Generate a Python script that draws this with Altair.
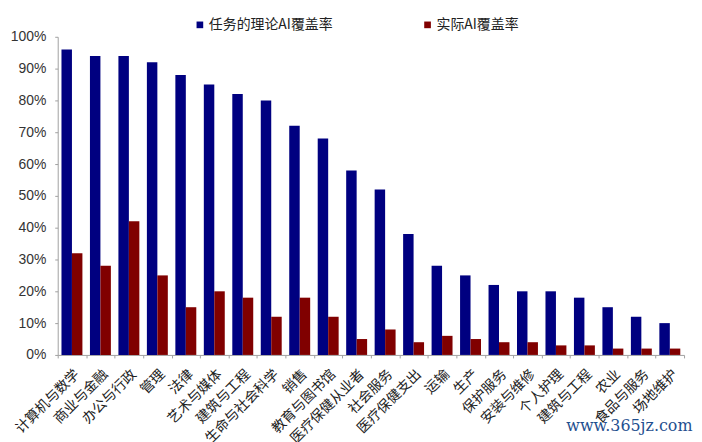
import json
import altair as alt
import pandas as pd

categories = ["计算机与数学", "商业与金融", "办公与行政", "管理", "法律", "艺术与媒体",
              "建筑与工程", "生命与社会科学", "销售", "教育与图书馆", "医疗保健从业者",
              "社会服务", "医疗保健支出", "运输", "生产", "保护服务", "安装与维修",
              "个人护理", "建筑与工程", "农业", "食品与服务", "场地维护"]
theory = [96, 94, 94, 92, 88, 85, 82, 80, 72, 68, 58, 52, 38, 28, 25, 22, 20, 20, 18, 15, 12, 10]
actual = [32, 28, 42, 25, 15, 20, 18, 12, 18, 12, 5, 8, 4, 6, 5, 4, 4, 3, 3, 2, 2, 2]
series_names = ["任务的理论AI覆盖率", "实际AI覆盖率"]
y_ticks = [0, 0.1, 0.2, 0.3, 0.4, 0.5, 0.6, 0.7, 0.8, 0.9, 1.0]

rows = []
for i, c in enumerate(categories):
    rows.append({"idx": i, "series": series_names[0], "value": theory[i] / 100})
    rows.append({"idx": i, "series": series_names[1], "value": actual[i] / 100})
df = pd.DataFrame(rows)

label_expr = json.dumps(categories, ensure_ascii=False) + "[datum.value]"

chart = alt.Chart(df).mark_bar().encode(
    x=alt.X("idx:O",
            scale=alt.Scale(paddingInner=0, paddingOuter=0),
            axis=alt.Axis(title=None, labelExpr=label_expr, labelAngle=-45,
                          labelAlign="right", labelBaseline="top",
                          tickBand="extent", tickSize=3, labelPadding=9,
                          labelLimit=400, labelOverlap=False,
                          labelFont="Noto Sans CJK SC", labelFontSize=14,
                          labelColor="#222222", domainColor="#a0a0a0",
                          tickColor="#a0a0a0")),
    xOffset=alt.XOffset("series:N", sort=series_names,
                        scale=alt.Scale(paddingOuter=0.36, paddingInner=0)),
    y=alt.Y("value:Q",
            scale=alt.Scale(domain=[0, 1]),
            axis=alt.Axis(title=None, format=".0%", values=y_ticks, grid=False,
                          tickSize=3, labelPadding=9,
                          labelFont="Liberation Sans", labelFontSize=14,
                          labelColor="#333333", domainColor="#a0a0a0",
                          tickColor="#a0a0a0")),
    color=alt.Color("series:N", sort=series_names,
                    scale=alt.Scale(domain=series_names, range=["#000080", "#800000"]),
                    legend=alt.Legend(title=None, orient="none", direction="horizontal",
                                      legendX=136, legendY=-19, symbolType="square",
                                      symbolSize=45, symbolStrokeWidth=0,
                                      labelFont="Noto Sans CJK SC", labelFontSize=14,
                                      labelColor="#222222", columnPadding=88,
                                      labelOffset=2, labelLimit=400)),
).properties(
    width=630, height=320,
    padding={"left": 50, "top": 27.6, "right": 10, "bottom": 120},
    autosize=alt.AutoSizeParams(type="none"),
    title=alt.TitleParams("www.365jz.com", orient="bottom", anchor="end",
                          dy=-32, dx=8, font="DejaVu Serif", fontSize=16,
                          fontWeight="normal", color="#1f4f8f"),
).configure_view(stroke=None)

chart.save("out.html", embed_options={"renderer": "svg", "actions": False})
